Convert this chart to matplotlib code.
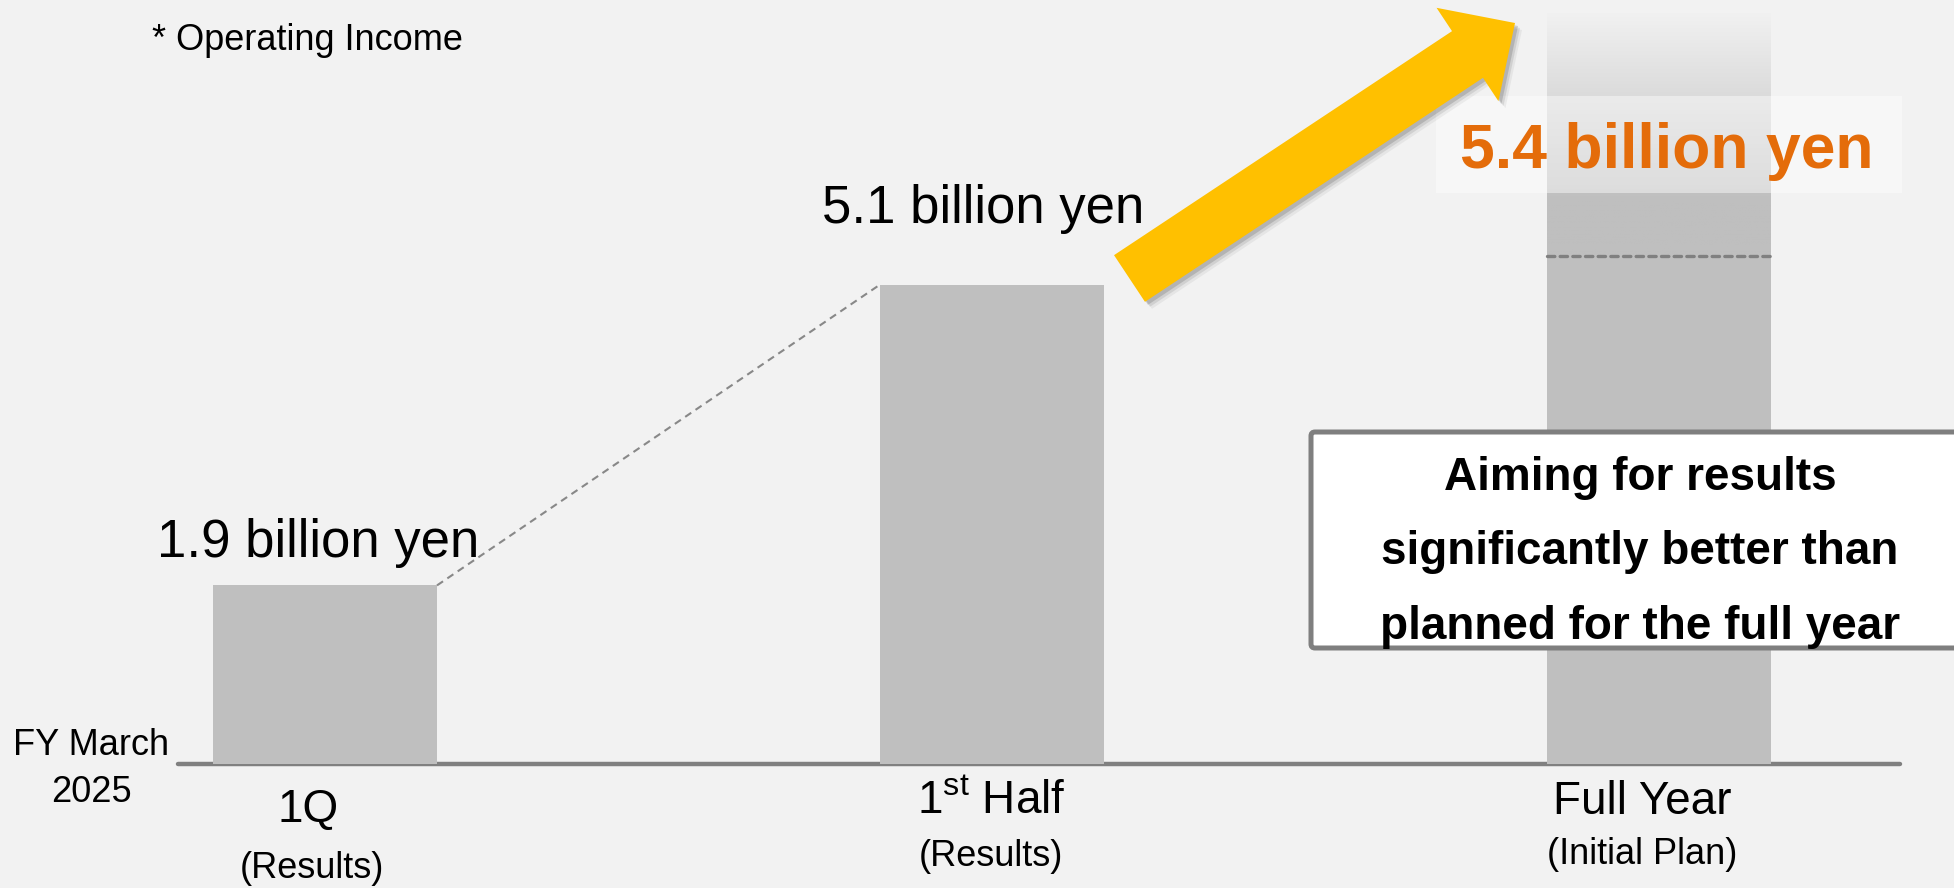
import numpy as np
import matplotlib
matplotlib.use("Agg")
import matplotlib.pyplot as plt
from matplotlib.patches import Rectangle, FancyArrow, FancyBboxPatch
from matplotlib.colors import LinearSegmentedColormap
from matplotlib.transforms import Affine2D

plt.rcParams['font.family'] = ['Liberation Sans', 'DejaVu Sans']
plt.rcParams['mathtext.fontset'] = 'custom'
plt.rcParams['mathtext.rm'] = 'Liberation Sans'

# operating income, billion yen
periods = ["1Q", r"1$^{\mathrm{st}}$ Half", "Full Year"]
notes = ["(Results)", "(Results)", "(Initial Plan)"]
income = [1.9, 5.1, 5.4]
value_labels = ["1.9 billion yen", "5.1 billion yen", "5.4 billion yen"]
message = ["Aiming for results", "significantly better than", "planned for the full year"]

W, H = 1954, 888
BG = "#F2F2F2"
BAR = "#BFBFBF"
GREY = "#808080"
ORANGE = "#E46C0A"
YELLOW = "#FFC000"

# pixel layout of the category axis
x0_px, step_px = 325, 667
base_px, unit_px = 764, 94
bar_w = 224 / step_px

fig = plt.figure(figsize=(W / 100, H / 100), dpi=100, facecolor=BG)
ax = fig.add_axes([0, 0, 1, 1])
ax.set_facecolor(BG)
ax.axis('off')

# pixel coordinates measured from the top-left corner
px = Affine2D().scale(1 / W, -1 / H).translate(0, 1) + fig.transFigure

pos = np.arange(len(periods))

# baseline
ax.axhline(0, xmin=178 / W, xmax=1900 / W, color=GREY, lw=3.2,
           solid_capstyle='round', zorder=1)

ax.bar(pos, income, width=bar_w, color=BAR, zorder=2)

# open-ended top of the full-year bar
fade_top = (base_px - 14) / unit_px
cmap = LinearSegmentedColormap.from_list(
    "fade", [(0, BAR), (0.23, BAR), (1, "#F1F1F1")])
grad = np.linspace(0, 1, 256).reshape(-1, 1)
ax.imshow(grad, extent=[pos[2] - bar_w / 2, pos[2] + bar_w / 2, income[2], fade_top],
          cmap=cmap, aspect='auto', origin='lower', zorder=2)

# trend line between the first two bars
ax.plot([pos[0] + bar_w / 2, pos[1] - bar_w / 2], [income[0], income[1]],
        color="#888888", lw=1.5, dashes=(3.5, 2.5), zorder=3)
# plan level on the full-year bar
ax.plot([pos[2] - bar_w / 2, pos[2] + bar_w / 2], [income[2], income[2]],
        color=GREY, lw=2.4, dashes=(2.2, 1.6), dash_capstyle='round', zorder=3)

ax.set_xlim(-x0_px / step_px, (W - x0_px) / step_px)
ax.set_ylim(-(H - base_px) / unit_px, base_px / unit_px)

# value labels
ax.annotate(value_labels[0], xy=(pos[0], income[0]), xytext=(-7, 28),
            textcoords='offset pixels', ha='center', va='baseline',
            fontsize=38, zorder=4)
ax.annotate(value_labels[1], xy=(pos[1], income[1]), xytext=(-9, 62),
            textcoords='offset pixels', ha='center', va='baseline',
            fontsize=38, zorder=4)
ax.add_patch(Rectangle((1436, 96), 466, 97, transform=px, facecolor="white",
                       alpha=0.45, lw=0, zorder=5))
ax.annotate(value_labels[2], xy=(pos[2], income[2]), xytext=(8, 88),
            textcoords='offset pixels', ha='center', va='baseline',
            fontsize=45, fontweight='bold', color=ORANGE, zorder=6)

# category labels
main_off = [(-17, -58), (-1, -50), (-17, -50)]
note_off = [(-13, -114), (-1, -102), (-17, -100)]
for i in range(len(periods)):
    ax.annotate(periods[i], xy=(pos[i], 0), xytext=main_off[i],
                textcoords='offset pixels', ha='center', va='baseline', fontsize=33)
    ax.annotate(notes[i], xy=(pos[i], 0), xytext=note_off[i],
                textcoords='offset pixels', ha='center', va='baseline', fontsize=26)

ax.text(91, 755, "FY March", transform=px, ha='center', va='baseline', fontsize=26)
ax.text(91, 802, "2025", transform=px, ha='center', va='baseline', fontsize=26)
ax.text(152, 50, "* Operating Income", transform=px, ha='left', va='baseline', fontsize=26)

# upward arrow with a soft shadow
tail = np.array([1129.5, 278.5])
tip = np.array([1515.0, 23.0])
d = tip - tail
for k, a in zip([7, 5, 3], [0.07, 0.12, 0.2]):
    ax.add_patch(FancyArrow(tail[0] + k, tail[1] + k, d[0], d[1], width=56,
                            head_width=112, head_length=57, length_includes_head=True,
                            transform=px, color="#404040", alpha=a, lw=0, zorder=7))
ax.add_patch(FancyArrow(tail[0], tail[1], d[0], d[1], width=56, head_width=112,
                        head_length=57, length_includes_head=True, transform=px,
                        color=YELLOW, lw=0, zorder=8))

# message box
ax.add_patch(FancyBboxPatch((1311, 432), 670, 216, boxstyle="round,pad=0,rounding_size=4",
                            transform=px, facecolor="white", edgecolor="#7F7F7F",
                            lw=3.6, zorder=9))
for line, y in zip(message, [490, 564, 639]):
    ax.text(1640, y, line, transform=px, ha='center', va='baseline',
            fontsize=33, fontweight='bold', zorder=10)

fig.savefig("out.png", dpi=100, facecolor=BG)
